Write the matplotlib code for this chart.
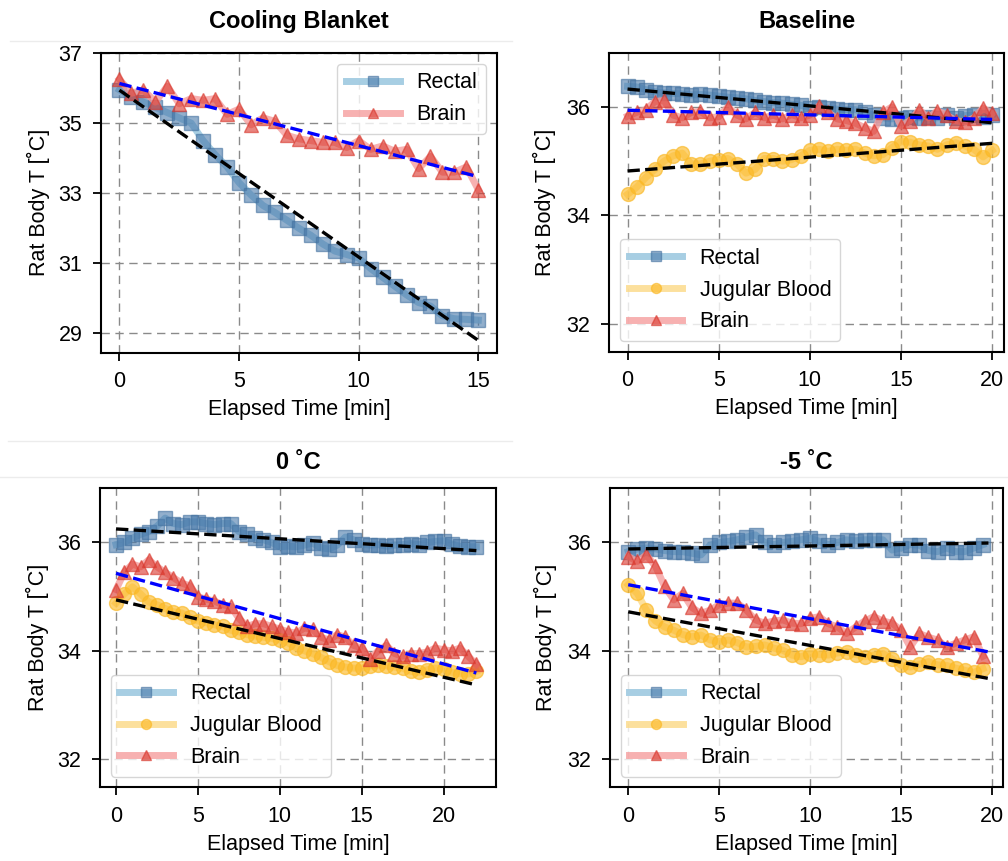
import numpy as np
import matplotlib
matplotlib.use('Agg')
import matplotlib.pyplot as plt
from matplotlib.lines import Line2D

plt.rcParams['font.family'] = ['Liberation Sans', 'DejaVu Sans']

# Cooling Blanket (top left)
t_cool = np.arange(0, 15.5, 0.5)
cool_rectal = [35.95, 35.75, 35.6, 35.45, 35.3, 35.15, 35.0, 34.5, 34.1, 33.75,
               33.3, 32.95, 32.65, 32.45, 32.23, 32.0, 31.8, 31.55, 31.35, 31.25,
               31.15, 30.85, 30.6, 30.35, 30.1, 29.88, 29.78, 29.5, 29.42, 29.4, 29.38]
cool_brain = [36.25, 35.85, 35.95, 35.6, 36.05, 35.55, 35.7, 35.65, 35.7, 35.25,
              35.4, 34.95, 35.15, 35.05, 34.65, 34.55, 34.5, 34.45, 34.45, 34.3,
              34.5, 34.25, 34.35, 34.2, 34.25, 33.7, 34.05, 33.6, 33.6, 33.75, 33.1]
cool_fit_t = [0, 15]
cool_fit_rectal = [35.94, 28.8]
cool_fit_brain = [36.13, 33.47]

# Baseline (top right)
t_base = np.arange(0, 20.5, 0.5)
base_rectal = [36.38, 36.37, 36.32, 36.28, 36.26, 36.25, 36.24, 36.22, 36.23, 36.22,
               36.2, 36.18, 36.17, 36.15, 36.12, 36.1, 36.08, 36.07, 36.05, 36.03,
               35.99, 36.0, 35.98, 35.96, 35.95, 35.95, 35.9, 35.85, 35.8, 35.78,
               35.8, 35.82, 35.8, 35.82, 35.8, 35.85, 35.8, 35.84, 35.85, 35.82, 35.86]
base_jugular = [34.39, 34.52, 34.7, 34.85, 35.0, 35.1, 35.15, 34.95, 34.95, 35.0,
                35.03, 35.05, 34.95, 34.78, 34.85, 35.05, 35.05, 35.0, 35.03, 35.1,
                35.2, 35.22, 35.18, 35.22, 35.2, 35.22, 35.15, 35.1, 35.12, 35.25,
                35.36, 35.35, 35.3, 35.28, 35.22, 35.3, 35.34, 35.28, 35.22, 35.08, 35.2]
base_brain = [35.83, 35.9, 35.95, 36.1, 36.12, 35.85, 35.8, 35.9, 35.92, 35.8,
              35.82, 36.0, 35.85, 35.78, 35.9, 35.8, 35.85, 35.78, 35.86, 35.8,
              35.85, 36.02, 35.9, 35.78, 35.75, 35.7, 35.62, 35.55, 35.9, 36.0,
              35.65, 35.75, 35.95, 35.8, 35.93, 35.85, 35.75, 35.72, 35.8, 35.98, 35.88]
base_fit_t = [0, 20]
base_fit_rectal = [36.33, 35.71]
base_fit_jugular = [34.82, 35.33]
base_fit_brain = [35.94, 35.77]

# 0 C (bottom left)
t_zero = np.arange(0, 22.5, 0.5)
zero_rectal = [35.96, 36.0, 36.08, 36.15, 36.2, 36.3, 36.45, 36.35, 36.33, 36.38,
               36.38, 36.35, 36.33, 36.35, 36.35, 36.2, 36.15, 36.08, 36.05, 36.0,
               35.92, 35.93, 35.92, 35.95, 35.99, 35.9, 35.88, 35.95, 36.1, 36.05,
               35.97, 35.95, 35.96, 35.93, 35.95, 35.96, 35.98, 35.96, 36.0, 36.02,
               36.03, 35.97, 35.93, 35.92, 35.92]
zero_jugular = [34.88, 35.05, 35.18, 35.05, 34.9, 34.85, 34.78, 34.72, 34.7, 34.62,
                34.55, 34.52, 34.48, 34.45, 34.38, 34.35, 34.3, 34.27, 34.25, 34.23,
                34.2, 34.15, 34.05, 34.0, 33.95, 33.88, 33.8, 33.73, 33.7, 33.68,
                33.68, 33.72, 33.74, 33.72, 33.7, 33.68, 33.62, 33.6, 33.65, 33.68,
                33.66, 33.6, 33.58, 33.57, 33.62]
zero_brain = [35.13, 35.45, 35.6, 35.55, 35.68, 35.55, 35.45, 35.35, 35.25, 35.2,
              35.0, 34.95, 34.92, 34.85, 34.82, 34.6, 34.45, 34.5, 34.5, 34.45,
              34.4, 34.35, 34.33, 34.42, 34.4, 34.25, 34.2, 34.3, 34.25, 34.1,
              34.05, 33.85, 34.0, 34.1, 33.95, 33.9, 33.95, 33.95, 33.98, 34.05,
              34.02, 34.0, 34.05, 33.9, 33.75]
zero_fit_t = [0, 22]
zero_fit_rectal = [36.25, 35.85]
zero_fit_jugular = [34.94, 33.37]
zero_fit_brain = [35.43, 33.59]

# -5 C (bottom right)
t_minus = np.arange(0, 20, 0.5)
minus_rectal = [35.83, 35.88, 35.9, 35.88, 35.85, 35.83, 35.83, 35.8, 35.77, 35.95,
                36.0, 36.02, 36.05, 36.1, 36.14, 36.0, 35.96, 36.0, 36.02, 36.05,
                36.08, 36.02, 35.96, 36.0, 36.05, 36.03, 36.05, 36.05, 36.05, 35.86,
                35.9, 35.96, 35.95, 35.85, 35.83, 35.9, 35.83, 35.83, 35.9, 35.96]
minus_jugular = [35.22, 35.06, 34.75, 34.55, 34.44, 34.38, 34.3, 34.26, 34.29, 34.2,
                 34.17, 34.2, 34.15, 34.07, 34.08, 34.11, 34.05, 34.01, 33.92, 33.89,
                 33.95, 33.93, 33.92, 33.96, 33.98, 33.93, 33.89, 33.92, 33.95, 33.85,
                 33.73, 33.7, 33.75, 33.8, 33.74, 33.73, 33.68, 33.64, 33.6, 33.67]
minus_brain = [35.74, 35.65, 35.77, 35.56, 35.19, 34.94, 35.06, 34.8, 34.69, 34.75,
               34.85, 34.88, 34.88, 34.75, 34.57, 34.51, 34.55, 34.57, 34.51, 34.5,
               34.6, 34.63, 34.5, 34.44, 34.32, 34.44, 34.55, 34.63, 34.55, 34.51,
               34.38, 34.07, 34.32, 34.25, 34.2, 34.07, 34.14, 34.2, 34.26, 33.9]
minus_fit_t = [0, 19.8]
minus_fit_rectal = [35.88, 35.99]
minus_fit_jugular = [34.72, 33.49]
minus_fit_brain = [35.22, 33.98]

# series styles: (label, marker, line colour, marker face, marker edge)
rectal_style = ('Rectal', 's', (0.62, 0.79, 0.88, 0.9), (0.29, 0.48, 0.67, 0.6), (0.26, 0.44, 0.62, 0.6))
jugular_style = ('Jugular Blood', 'o', (0.99, 0.85, 0.52, 0.8), (0.99, 0.73, 0.16, 0.65), (0.98, 0.72, 0.14, 0.65))
brain_style = ('Brain', '^', (0.96, 0.62, 0.62, 0.8), (0.86, 0.23, 0.19, 0.62), (0.85, 0.22, 0.18, 0.62))

W, H = 1008, 861
fig = plt.figure(figsize=(W / 100, H / 100), dpi=100)


def add_panel(left, top, right, bottom):
    return fig.add_axes([left / W, 1 - bottom / H, (right - left) / W, (bottom - top) / H])


def series(ax, t, y, style):
    label, mk, lc, mfc, mec = style
    line, = ax.plot(t, y, color=lc, lw=5, marker=mk, ms=10, mfc=mfc, mec=mec, mew=1,
                    label=label, zorder=2)
    return line


def fit(ax, t, y, color):
    ax.plot(t, y, color=color, ls='--', lw=2.4, zorder=3)


def style_axes(ax, title, xlim, ylim, xticks, yticks, pad):
    ax.set_xlim(xlim)
    ax.set_ylim(ylim)
    ax.set_xticks(xticks)
    ax.set_yticks(yticks)
    ax.grid(True, ls='--', color='#8a8a8a', lw=1.0, dashes=(6, 4))
    ax.set_axisbelow(True)
    for s in ax.spines.values():
        s.set_linewidth(1.5)
    ax.tick_params(labelsize=15.5, length=5.5, width=1.3, pad=8)
    ax.set_xlabel('Elapsed Time [min]', fontsize=15.5, labelpad=5)
    ax.set_ylabel('Rat Body T [˚C]', fontsize=15.5)
    ax.set_title(title, fontsize=17, fontweight='bold', pad=pad)


def legend(ax, loc):
    ax.legend(loc=loc, fontsize=15.5, handlelength=2.5, markerscale=0.72, edgecolor='#cccccc')


# Cooling Blanket
ax1 = add_panel(101, 53, 497, 352.7)
series(ax1, t_cool, cool_rectal, rectal_style)
series(ax1, t_cool, cool_brain, brain_style)
fit(ax1, cool_fit_t, cool_fit_rectal, 'black')
fit(ax1, cool_fit_t, cool_fit_brain, 'blue')
style_axes(ax1, 'Cooling Blanket', (-0.77, 15.78), (28.45, 37.0), [0, 5, 10, 15], [29, 31, 33, 35, 37], 18)
ax1.yaxis.set_label_coords(-0.13, 0.5)
legend(ax1, 'upper right')

# Baseline
ax2 = add_panel(609.3, 52.7, 1004, 351.7)
series(ax2, t_base, base_rectal, rectal_style)
series(ax2, t_base, base_jugular, jugular_style)
series(ax2, t_base, base_brain, brain_style)
fit(ax2, base_fit_t, base_fit_rectal, 'black')
fit(ax2, base_fit_t, base_fit_jugular, 'black')
fit(ax2, base_fit_t, base_fit_brain, 'blue')
style_axes(ax2, 'Baseline', (-1.0, 20.65), (31.49, 37.0), [0, 5, 10, 15, 20], [32, 34, 36], 18)
ax2.yaxis.set_label_coords(-0.135, 0.5)
legend(ax2, 'lower left')

# 0 C
ax3 = add_panel(100, 488.3, 496, 787.3)
series(ax3, t_zero, zero_rectal, rectal_style)
series(ax3, t_zero, zero_jugular, jugular_style)
series(ax3, t_zero, zero_brain, brain_style)
fit(ax3, zero_fit_t, zero_fit_rectal, 'black')
fit(ax3, zero_fit_t, zero_fit_jugular, 'black')
fit(ax3, zero_fit_t, zero_fit_brain, 'blue')
style_axes(ax3, '0 ˚C', (-0.98, 23.2), (31.48, 37.0), [0, 5, 10, 15, 20], [32, 34, 36], 14)
ax3.yaxis.set_label_coords(-0.13, 0.5)
legend(ax3, 'lower left')

# -5 C
ax4 = add_panel(610, 488.3, 1003, 787.3)
series(ax4, t_minus, minus_rectal, rectal_style)
series(ax4, t_minus, minus_jugular, jugular_style)
series(ax4, t_minus, minus_brain, brain_style)
fit(ax4, minus_fit_t, minus_fit_rectal, 'black')
fit(ax4, minus_fit_t, minus_fit_jugular, 'black')
fit(ax4, minus_fit_t, minus_fit_brain, 'blue')
style_axes(ax4, '-5 ˚C', (-1.0, 20.6), (31.48, 37.0), [0, 5, 10, 15, 20], [32, 34, 36], 14)
ax4.yaxis.set_label_coords(-0.135, 0.5)
legend(ax4, 'lower left')

# faint separators between the stitched panels
for y, x0, x1 in [(41, 10, 512), (441, 8, 512), (477, 0, 1008)]:
    fig.add_artist(Line2D([x0 / W, x1 / W], [1 - y / H, 1 - y / H], color='#ececec', lw=1))

fig.savefig('out.png', dpi=100)
